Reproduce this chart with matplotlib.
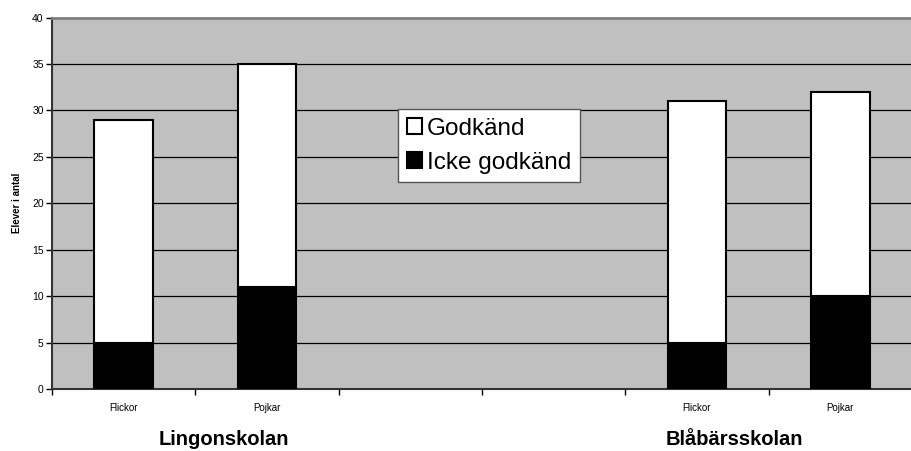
import matplotlib.pyplot as plt
import numpy as np

plt.rcParams['font.family'] = ['Liberation Sans', 'DejaVu Sans']

# data: 6 category slots, two of them empty between the schools
slot_labels = ["Flickor", "Pojkar", "", "", "Flickor", "Pojkar"]
icke_godkand = [5, 11, 0, 0, 5, 10]
godkand = [24, 24, 0, 0, 26, 22]
schools = ["Lingonskolan", "Blåbärsskolan"]
school_pos = [0.7, 4.26]

W, H = 912, 451
fig = plt.figure(figsize=(W / 100, H / 100), dpi=100)
ax = fig.add_axes([52 / W, 1 - 389 / H, (W - 52) / W, (389 - 17.5) / H])
ax.set_facecolor("#c0c0c0")

x = np.arange(len(slot_labels))
mask = np.array(godkand) + np.array(icke_godkand) > 0
bw = 0.41
ax.bar(x[mask], np.array(icke_godkand)[mask], bw, color="black",
       edgecolor="black", linewidth=1.5, label="Icke godkänd", zorder=3)
ax.bar(x[mask], np.array(godkand)[mask], bw, bottom=np.array(icke_godkand)[mask],
       color="white", edgecolor="black", linewidth=1.5, label="Godkänd", zorder=3)

ax.set_ylim(0, 40)
ax.set_yticks(range(0, 41, 5))
ax.yaxis.grid(True, color="black", linewidth=0.9, zorder=0)
ax.set_axisbelow(True)
ax.set_xlim(-0.5, -0.5 + (W - 52) / 145)

ax.set_xticks(x)
ax.set_xticklabels(slot_labels, fontsize=7)
ax.set_xticks(np.arange(-0.5, 6, 1), minor=True)
ax.tick_params(axis="x", which="major", length=0, pad=10)
ax.tick_params(axis="x", which="minor", length=4, width=1, direction="out")
ax.tick_params(axis="y", length=4, width=1, labelsize=7.5, pad=2)

ax.spines["right"].set_visible(False)
ax.spines["top"].set_color("#808080")
ax.spines["top"].set_linewidth(2)
ax.spines["left"].set_color("#333333")
ax.spines["left"].set_linewidth(1.5)
ax.spines["bottom"].set_color("#333333")
ax.spines["bottom"].set_linewidth(1.5)

ax.set_ylabel("Elever i antal", fontsize=7, fontweight="bold", labelpad=7)

for name, p in zip(schools, school_pos):
    ax.text(p, -0.135, name, transform=ax.get_xaxis_transform(), ha="center",
            va="center", fontsize=14.5, fontweight="bold")

handles, labels = ax.get_legend_handles_labels()
leg = ax.legend(handles[::-1], labels[::-1], loc="upper left",
                bbox_to_anchor=((398 - 52) / (W - 52), (389 - 109) / (389 - 17.5)),
                fontsize=17.5, frameon=True, fancybox=False, framealpha=1,
                edgecolor="#555555", handlelength=0.65, handleheight=0.65,
                handletextpad=0.2, borderpad=0.35, labelspacing=0.5,
                borderaxespad=0)
leg.get_frame().set_linewidth(1)

fig.savefig("out.png", dpi=100)
